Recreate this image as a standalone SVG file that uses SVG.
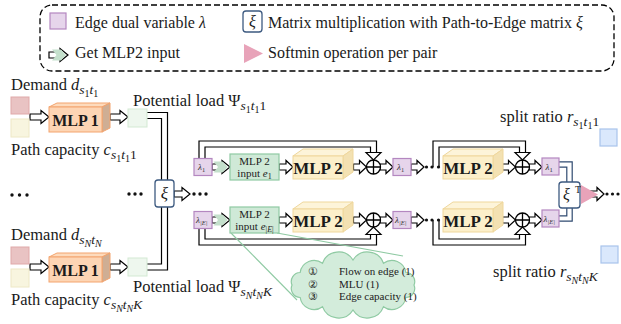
<svg xmlns="http://www.w3.org/2000/svg" width="621" height="324" viewBox="0 0 621 324">
<defs>
<style>
text { font-family: "Liberation Serif", "Times New Roman", serif; fill: #1a1a1a; }
.lbl { font-size: 16px; }
.big { font-size: 16.5px; }
.it { font-style: italic; }
.s1 { font-size: 13.5px; }
.s2 { font-size: 10px; }
.ha { fill: #fff; stroke: #000; stroke-width: 1.2; stroke-linejoin: miter; }
.pipeO { fill: none; stroke: #000; stroke-width: 7.2; stroke-linejoin: miter; }
.pipeI { fill: none; stroke: #fff; stroke-width: 4.8; stroke-linejoin: miter; }
.bpipeO { fill: none; stroke: #2f4a70; stroke-width: 6.6; }
.bpipeI { fill: none; stroke: #fff; stroke-width: 4.2; }
.lam { fill: #e6d5eb; stroke: #b487c0; stroke-width: 1.2; }
.lamt { font-size: 9px; fill: #333; }
.lsub { font-size: 6.5px; fill: #333; }
.chev { fill: #c4e0cc; }
.xi { fill: #fff; stroke: #3d5a80; stroke-width: 1.3; }
.op { fill: #fff; stroke: #000; stroke-width: 1.3; }
.m1f { fill: #fdd5b4; stroke: #f3a46e; stroke-width: 1; }
.m1t { fill: #fddbbd; stroke: #f3a46e; stroke-width: 1; }
.m1r { fill: #cfae94; stroke: #f3a46e; stroke-width: 1; }
.m2f { fill: #fcefca; stroke: #efd79c; stroke-width: 1; }
.m2t { fill: #fdf4d9; stroke: #efd79c; stroke-width: 1; }
.m2r { fill: #f3e1b2; stroke: #efd79c; stroke-width: 1; }
.mt { font-weight: bold; text-anchor: middle; }
.inb { fill: #cfe9d7; stroke: #8fcaa3; stroke-width: 1.2; }
.int { font-size: 11px; text-anchor: middle; fill: #222; }
.dot { fill: #111; }
.pk { fill: #e9c3c3; stroke: #e0a9a9; stroke-width: 1; }
.yl { fill: #f8f5df; stroke: #eee8c6; stroke-width: 1; }
.gr { fill: #eef7ee; stroke: #d3e9d3; stroke-width: 1; }
.bl { fill: #dae8fc; stroke: #a9c4eb; stroke-width: 1.2; }
.tri { fill: #e8a3b9; }
.cl { font-size: 11px; fill: #222; }
</style>
<path id="ha13" class="ha" d="M0,-3 H6 V-6.5 L13,0 L6,6.5 V3 H0 Z"/>
<path id="ha14" class="ha" d="M0,-3 H7 V-6.5 L14,0 L7,6.5 V3 H0 Z"/>
<path id="ha16" class="ha" d="M0,-3 H8 V-6.5 L16,0 L8,6.5 V3 H0 Z"/>
<path id="ha18" class="ha" d="M0,-3 H10 V-6.5 L18,0 L10,6.5 V3 H0 Z"/>
<path id="ha19" class="ha" d="M0,-3 H11 V-6.5 L19,0 L11,6.5 V3 H0 Z"/>
<polygon id="chev" class="chev" points="0,-5.5 9,-5.5 14,0 9,5.5 0,5.5 4.5,0"/>
</defs>

<rect width="621" height="324" fill="#fff"/>

<!-- legend -->
<g id="legend">
  <rect x="40" y="5" width="574" height="66" rx="12" fill="none" stroke="#000" stroke-width="1.3" stroke-dasharray="6 3"/>
  <rect x="50" y="13" width="16" height="16" class="lam"/>
  <text x="75" y="28" class="lbl">Edge dual variable <tspan class="it">λ</tspan></text>
  <rect x="243" y="11" width="19" height="21" rx="3" class="xi"/>
  <text x="252.5" y="27" class="lbl it" text-anchor="middle">ξ</text>
  <text x="268" y="28" class="lbl">Matrix multiplication with Path-to-Edge matrix <tspan class="it">ξ</tspan></text>
  <use href="#ha19" x="49" y="55"/>
  <use href="#chev" x="52" y="55"/>
  <text x="75" y="58" class="lbl">Get MLP2 input</text>
  <polygon points="244,44 263,53.5 244,63" class="tri"/>
  <text x="268" y="58" class="lbl">Softmin operation per pair</text>
</g>

<!-- connectors -->
<g id="connectors">
  <!-- potential loads into the path-to-edge matrix -->
  <path class="pipeO" d="M147,115.5 H164.5 V180"/>
  <path class="pipeI" d="M146,115.5 H164.5 V181"/>
  <path class="pipeO" d="M164.5,207 V267 H147"/>
  <path class="pipeI" d="M164.5,206 V267 H146"/>
  <!-- residual loops, first stage -->
  <path class="pipeO" d="M202,159 V144 H373.5 V152.5"/>
  <path class="pipeI" d="M202,160 V144 H373.5 V153.5"/>
  <path class="pipeO" d="M202,228 V242 H373.5 V234.5"/>
  <path class="pipeI" d="M202,227 V242 H373.5 V233.5"/>
  <!-- residual loops, last stage -->
  <path class="pipeO" d="M436,167 V144 H522.5 V152.5"/>
  <path class="pipeI" d="M436,168 V144 H522.5 V153.5"/>
  <path class="pipeO" d="M436,220 V242 H522.5 V234.5"/>
  <path class="pipeI" d="M436,219 V242 H522.5 V233.5"/>
  <polygon class="ha" points="366,152.5 381,152.5 373.5,160"/>
  <polygon class="ha" points="515,152.5 530,152.5 522.5,160"/>
  <polygon class="ha" points="366,234.5 381,234.5 373.5,227"/>
  <polygon class="ha" points="515,234.5 530,234.5 522.5,227"/>
  <!-- transposed matrix links -->
  <path class="bpipeO" d="M559,164.5 H569.5 V182"/>
  <path class="bpipeI" d="M558,164.5 H569.5 V183"/>
  <path class="bpipeO" d="M569.5,208 V218.5 H559"/>
  <path class="bpipeI" d="M569.5,207 V218.5 H558"/>
  <!-- left branch arrows -->
  <use href="#ha19" x="30" y="117"/>
  <use href="#ha18" x="110" y="117"/>
  <use href="#ha19" x="30" y="267"/>
  <use href="#ha18" x="110" y="267"/>
  <use href="#ha16" x="174" y="194"/>
  <!-- row 1 -->
  <use href="#ha18" x="212" y="167"/>
  <use href="#chev" x="213.5" y="167"/>
  <use href="#ha14" x="279" y="167"/>
  <use href="#ha13" x="353.5" y="167"/>
  <use href="#ha13" x="380" y="167"/>
  <use href="#ha13" x="411" y="167"/>
  <use href="#ha13" x="502.5" y="167"/>
  <use href="#ha13" x="529" y="167"/>
  <!-- row 2 -->
  <use href="#ha18" x="212" y="220"/>
  <use href="#chev" x="213.5" y="220"/>
  <use href="#ha14" x="279" y="220"/>
  <use href="#ha13" x="353.5" y="220"/>
  <use href="#ha13" x="380" y="220"/>
  <use href="#ha13" x="411" y="220"/>
  <use href="#ha13" x="502.5" y="220"/>
  <use href="#ha13" x="529" y="220"/>
  <!-- output -->
  <use href="#ha14" x="590" y="194"/>
  <!-- callout wedge -->
  <line x1="231" y1="233" x2="297" y2="300" stroke="#8fcaa3" stroke-width="1.1"/>
  <line x1="277" y1="233" x2="403" y2="256" stroke="#8fcaa3" stroke-width="1.1"/>
</g>

<!-- ellipsis dots -->
<g id="dots">
  <circle class="dot" cx="12" cy="195" r="1.7"/><circle class="dot" cx="19.5" cy="195" r="1.7"/><circle class="dot" cx="27" cy="195" r="1.7"/>
  <circle class="dot" cx="129" cy="194" r="1.7"/><circle class="dot" cx="135" cy="194" r="1.7"/><circle class="dot" cx="141" cy="194" r="1.7"/>
  <circle class="dot" cx="194" cy="194" r="1.7"/><circle class="dot" cx="200" cy="194" r="1.7"/><circle class="dot" cx="206" cy="194" r="1.7"/>
  <circle class="dot" cx="426.5" cy="167" r="1.6"/><circle class="dot" cx="432" cy="167" r="1.6"/><circle class="dot" cx="438.5" cy="167" r="1.6"/>
  <circle class="dot" cx="426.5" cy="220" r="1.6"/><circle class="dot" cx="432" cy="220" r="1.6"/><circle class="dot" cx="438.5" cy="220" r="1.6"/>
  <circle class="dot" cx="607" cy="194" r="1.6"/><circle class="dot" cx="612.5" cy="194" r="1.6"/><circle class="dot" cx="618" cy="194" r="1.6"/>
</g>

<!-- first commodity -->
<g id="demand-1">
  <text x="11" y="90" class="big">Demand <tspan class="it">d</tspan><tspan class="it s1" dy="4">s</tspan><tspan class="s2" dy="2.5">1</tspan><tspan class="it s1" dy="-2.5">t</tspan><tspan class="s2" dy="2.5">1</tspan></text>
  <rect x="11" y="97" width="18" height="17" class="pk"/>
</g>
<g id="capacity-1">
  <rect x="11" y="119" width="18" height="18" class="yl"/>
  <text x="11" y="155" class="big">Path capacity <tspan class="it">c</tspan><tspan class="it s1" dy="4">s</tspan><tspan class="s2" dy="2.5">1</tspan><tspan class="it s1" dy="-2.5">t</tspan><tspan class="s2" dy="2.5">1</tspan><tspan class="s1" dy="-2.5">1</tspan></text>
</g>
<g id="mlp1-1">
  <polygon class="m1t" points="49,107 57,103 110,103 102,107"/>
  <polygon class="m1r" points="102,107 110,103 110,128 102,132"/>
  <rect x="49" y="107" width="53" height="25" class="m1f"/>
  <text x="75.5" y="125.5" class="mt" font-size="16">MLP 1</text>
</g>
<g id="load-1">
  <rect x="128" y="109" width="19" height="18" class="gr"/>
  <text x="133" y="106" class="big">Potential load Ψ<tspan class="it s1" dy="4">s</tspan><tspan class="s2" dy="2.5">1</tspan><tspan class="it s1" dy="-2.5">t</tspan><tspan class="s2" dy="2.5">1</tspan><tspan class="s1" dy="-2.5">1</tspan></text>
</g>

<!-- last commodity -->
<g id="demand-N">
  <text x="11" y="240" class="big">Demand <tspan class="it">d</tspan><tspan class="it s1" dy="4">s</tspan><tspan class="it s2" dy="2.5">N</tspan><tspan class="it s1" dy="-2.5">t</tspan><tspan class="it s2" dy="2.5">N</tspan></text>
  <rect x="11" y="247" width="18" height="17" class="pk"/>
</g>
<g id="capacity-N">
  <rect x="11" y="269" width="18" height="18" class="yl"/>
  <text x="11" y="305" class="big">Path capacity <tspan class="it">c</tspan><tspan class="it s1" dy="4">s</tspan><tspan class="it s2" dy="2.5">N</tspan><tspan class="it s1" dy="-2.5">t</tspan><tspan class="it s2" dy="2.5">N</tspan><tspan class="it s1" dy="-2.5">K</tspan></text>
</g>
<g id="mlp1-N">
  <polygon class="m1t" points="49,257 57,253 110,253 102,257"/>
  <polygon class="m1r" points="102,257 110,253 110,278 102,282"/>
  <rect x="49" y="257" width="53" height="25" class="m1f"/>
  <text x="75.5" y="275.5" class="mt" font-size="16">MLP 1</text>
</g>
<g id="load-N">
  <rect x="128" y="258" width="19" height="18" class="gr"/>
  <text x="133" y="292" class="big">Potential load Ψ<tspan class="it s1" dy="4">s</tspan><tspan class="it s2" dy="2.5">N</tspan><tspan class="it s1" dy="-2.5">t</tspan><tspan class="it s2" dy="2.5">N</tspan><tspan class="it s1" dy="-2.5">K</tspan></text>
</g>

<!-- path-to-edge matrix -->
<g id="xi">
  <rect x="155" y="180" width="19" height="27" rx="3" class="xi"/>
  <text x="164.5" y="199" class="it" font-size="17" text-anchor="middle">ξ</text>
</g>

<!-- edge dual variables -->
<g id="lambda-1-a"><rect x="194" y="158.5" width="18" height="17" class="lam"/><text x="198" y="170" class="lamt it">λ<tspan class="lsub" font-style="normal" dy="2">1</tspan></text></g>
<g id="lambda-E-a"><rect x="194" y="211.5" width="18" height="17" class="lam"/><text x="196" y="223" class="lamt it">λ<tspan class="lsub" dy="2">|E|</tspan></text></g>
<g id="lambda-1-b"><rect x="393" y="158.5" width="18" height="17" class="lam"/><text x="397" y="170" class="lamt it">λ<tspan class="lsub" font-style="normal" dy="2">1</tspan></text></g>
<g id="lambda-E-b"><rect x="393" y="211.5" width="18" height="17" class="lam"/><text x="395" y="223" class="lamt it">λ<tspan class="lsub" dy="2">|E|</tspan></text></g>
<g id="lambda-1-c"><rect x="542" y="158" width="17" height="17" class="lam"/><text x="545.5" y="169.5" class="lamt it">λ<tspan class="lsub" font-style="normal" dy="2">1</tspan></text></g>
<g id="lambda-E-c"><rect x="542" y="210" width="17" height="17" class="lam"/><text x="543.5" y="221.5" class="lamt it">λ<tspan class="lsub" dy="2">|E|</tspan></text></g>

<!-- MLP2 inputs -->
<g id="mlp2-input-1">
  <rect x="230" y="154" width="49" height="26" class="inb"/>
  <text x="254.5" y="164.5" class="int">MLP 2</text>
  <text x="254.5" y="176.5" class="int">input <tspan class="it">e</tspan><tspan font-size="8" dy="2">1</tspan></text>
</g>
<g id="mlp2-input-E">
  <rect x="230" y="207" width="49" height="26" class="inb"/>
  <text x="254.5" y="217.5" class="int">MLP 2</text>
  <text x="254.5" y="229.5" class="int">input <tspan class="it">e</tspan><tspan font-size="8" dy="2">|<tspan class="it">E</tspan>|</tspan></text>
</g>

<!-- MLP2 blocks -->
<g id="mlp2-1-a">
  <polygon class="m2t" points="293,156 303,149 353,149 343,156"/>
  <polygon class="m2r" points="343,156 353,149 353,172 343,179"/>
  <rect x="293" y="156" width="50" height="23" class="m2f"/>
  <text x="318" y="174" class="mt" font-size="17">MLP 2</text>
</g>
<g id="mlp2-E-a">
  <polygon class="m2t" points="293,209 303,202 353,202 343,209"/>
  <polygon class="m2r" points="343,209 353,202 353,225 343,232"/>
  <rect x="293" y="209" width="50" height="23" class="m2f"/>
  <text x="318" y="227" class="mt" font-size="17">MLP 2</text>
</g>
<g id="mlp2-1-b">
  <polygon class="m2t" points="443,156 453,149 503,149 493,156"/>
  <polygon class="m2r" points="493,156 503,149 503,172 493,179"/>
  <rect x="443" y="156" width="50" height="23" class="m2f"/>
  <text x="468" y="174" class="mt" font-size="17">MLP 2</text>
</g>
<g id="mlp2-E-b">
  <polygon class="m2t" points="443,209 453,202 503,202 493,209"/>
  <polygon class="m2r" points="493,209 503,202 503,225 493,232"/>
  <rect x="443" y="209" width="50" height="23" class="m2f"/>
  <text x="468" y="227" class="mt" font-size="17">MLP 2</text>
</g>

<!-- residual sums -->
<g id="sum-1-a"><circle cx="373.5" cy="167" r="7" class="op"/><path d="M366.5,167 H380.5 M373.5,160 V174" stroke="#000" stroke-width="1.3"/></g>
<g id="sum-E-a"><circle cx="373.5" cy="220" r="7" class="op"/><path d="M366.5,220 H380.5 M373.5,213 V227" stroke="#000" stroke-width="1.3"/></g>
<g id="sum-1-b"><circle cx="522.5" cy="167" r="7" class="op"/><path d="M515.5,167 H529.5 M522.5,160 V174" stroke="#000" stroke-width="1.3"/></g>
<g id="sum-E-b"><circle cx="522.5" cy="220" r="7" class="op"/><path d="M515.5,220 H529.5 M522.5,213 V227" stroke="#000" stroke-width="1.3"/></g>

<!-- transposed matrix and softmin -->
<g id="xi-T">
  <rect x="559" y="182" width="21" height="26" rx="3" class="xi"/>
  <text x="566.5" y="200" class="it" font-size="16" text-anchor="middle">ξ</text>
  <text x="575" y="193" font-size="10">T</text>
</g>
<g id="softmin">
  <polygon points="581,185 598,194.5 581,204" class="tri"/>
</g>

<!-- split ratios -->
<g id="ratio-1">
  <text x="500" y="122" class="big">split ratio <tspan class="it">r</tspan><tspan class="it s1" dy="4">s</tspan><tspan class="s2" dy="2.5">1</tspan><tspan class="it s1" dy="-2.5">t</tspan><tspan class="s2" dy="2.5">1</tspan><tspan class="s1" dy="-2.5">1</tspan></text>
  <rect x="600" y="129" width="17" height="17" class="bl"/>
</g>
<g id="ratio-N">
  <rect x="601" y="246" width="17" height="17" class="bl"/>
  <text x="493" y="277" class="big">split ratio <tspan class="it">r</tspan><tspan class="it s1" dy="4">s</tspan><tspan class="it s2" dy="2.5">N</tspan><tspan class="it s1" dy="-2.5">t</tspan><tspan class="it s2" dy="2.5">N</tspan><tspan class="it s1" dy="-2.5">K</tspan></text>
</g>

<!-- MLP2 input features -->
<g id="features">
  <path fill="#d3ecdb" stroke="#8fcaa3" stroke-width="1.2" d="M353,260 A17,17 0 0 1 383.5,263.35 A14,14 0 0 1 405.83,272.5 A9,9 0 0 1 414,285 A9,9 0 0 1 405.83,297.5 A14,14 0 0 1 383.5,306.65 A17,17 0 0 1 353,310 A17,17 0 0 1 322.5,306.65 A14,14 0 0 1 300.17,297.5 A9,9 0 0 1 292,285 A9,9 0 0 1 300.17,272.5 A14,14 0 0 1 322.5,263.35 A17,17 0 0 1 353,260 Z"/>
  <text x="308" y="275" class="cl">①</text><text x="339" y="275" class="cl">Flow on edge (1)</text>
  <text x="308" y="287.5" class="cl">②</text><text x="339" y="287.5" class="cl">MLU (1)</text>
  <text x="308" y="300" class="cl">③</text><text x="339" y="300" class="cl">Edge capacity (1)</text>
</g>
</svg>
